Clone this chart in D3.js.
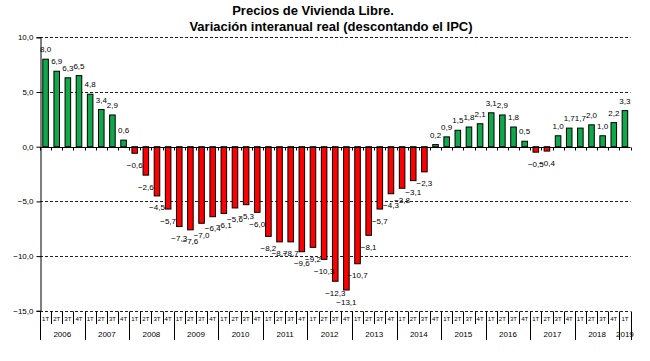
<!DOCTYPE html>
<html>
<head>
<meta charset="utf-8">
<script src="https://cdn.jsdelivr.net/npm/d3@7.9.0/dist/d3.min.js"></script>
<style>
  body { margin: 0; background: #fff; }
  svg { font-family: Arial, 'Liberation Sans', sans-serif; display: block; }
</style>
</head>
<body>
<svg id="chart" width="650" height="361"></svg>
<script>
// data
const years = ['2006', '2007', '2008', '2009', '2010', '2011', '2012',
  '2013', '2014', '2015', '2016', '2017', '2018', '2019'];
const quarterLabels = ['1T', '2T', '3T', '4T'];
const values = [
  8.0, 6.9, 6.3, 6.5,
  4.8, 3.4, 2.9, 0.6,
  -0.6, -2.6, -4.5, -5.7,
  -7.3, -7.6, -7.0, -6.4,
  -6.1, -5.6, -5.3, -6.0,
  -8.2, -8.7, -8.7, -9.6,
  -9.2, -10.3, -12.3, -13.1,
  -10.7, -8.1, -5.7, -4.3,
  -3.8, -3.1, -2.3, 0.2,
  0.9, 1.5, 1.8, 2.1,
  3.1, 2.9, 1.8, 0.5,
  -0.5, -0.4, 1.0, 1.7,
  1.7, 2.0, 1.0, 2.2,
  3.3
];
const yTicks = [10, 5, 0, -5, -10, -15];
const titleLines = ['Precios de Vivienda Libre.', 'Variación interanual real (descontando el IPC)'];

// categories: one per quarter
const data = values.map((v, i) => ({
  i,
  value: v,
  quarter: quarterLabels[i % 4],
  year: years[Math.floor(i / 4)]
}));

const svg = d3.select('#chart');
const fmt = v => d3.format('.1f')(v).replace('.', ',');

const x = d3.scaleBand().domain(data.map(d => d.i)).range([40, 630.5]).paddingInner(0.5).paddingOuter(0.25);
const y = d3.scaleLinear().domain([-15, 10]).range([310.8, 37.3]);
const step = x.step();
const x0 = 40;
const edge = i => x0 + i * ((630.5 - 40) / data.length);

// title
svg.append('text').attr('x', 313).attr('y', 15).attr('text-anchor', 'middle')
  .attr('font-size', 13).attr('font-weight', 'bold').text(titleLines[0]);
svg.append('text').attr('x', 331).attr('y', 30.5).attr('text-anchor', 'middle')
  .attr('font-size', 13).attr('font-weight', 'bold').text(titleLines[1]);

// gridlines (dashed, except zero)
svg.append('g').selectAll('line')
  .data(yTicks.filter(t => t !== 0))
  .join('line')
  .attr('x1', 40).attr('x2', 630.5)
  .attr('y1', d => Math.round(y(d)) + 0.5).attr('y2', d => Math.round(y(d)) + 0.5)
  .attr('stroke', '#222').attr('stroke-width', 1).attr('stroke-dasharray', '3,2');

// y axis
const yAxis = d3.axisLeft(y).tickValues(yTicks).tickSize(4).tickFormat(fmt);
const gy = svg.append('g').attr('transform', 'translate(40.5,0)').call(yAxis);
gy.select('.domain').attr('stroke', '#000');
gy.selectAll('.tick text').attr('font-size', 8).attr('font-family', 'Arial, Liberation Sans, sans-serif').attr('fill', '#000');

// bars
svg.append('g').selectAll('rect')
  .data(data)
  .join('rect')
  .attr('x', d => x(d.i))
  .attr('width', x.bandwidth())
  .attr('y', d => y(Math.max(0, d.value)))
  .attr('height', d => Math.abs(y(d.value) - y(0)))
  .attr('fill', d => d.value >= 0 ? '#10a84a' : '#ff0000')
  .attr('stroke', '#000').attr('stroke-width', 1);

// zero line with small ticks
const y0 = Math.round(y(0)) + 0.5;
svg.append('line').attr('x1', 40).attr('x2', 630.5).attr('y1', y0).attr('y2', y0)
  .attr('stroke', '#000');
svg.append('g').selectAll('line')
  .data(d3.range(data.length + 1))
  .join('line')
  .attr('x1', d => Math.round(edge(d)) + 0.5).attr('x2', d => Math.round(edge(d)) + 0.5)
  .attr('y1', y0).attr('y2', y0 + 3)
  .attr('stroke', '#000');

// value labels
svg.append('g').selectAll('text')
  .data(data)
  .join('text')
  .attr('x', d => x(d.i) + x.bandwidth() / 2)
  .attr('y', d => d.value >= 0 ? y(d.value) - 7 : y(d.value) + 14.5)
  .attr('text-anchor', 'middle')
  .attr('font-size', 8)
  .attr('fill', '#000')
  .text(d => fmt(d.value));

// category axis: quarter and year rows
const yb = Math.round(y(-15)) + 0.5;
const cat = svg.append('g');
cat.selectAll('line.q')
  .data(d3.range(data.length + 1))
  .join('line')
  .attr('class', 'q')
  .attr('x1', d => Math.round(edge(d)) + 0.5).attr('x2', d => Math.round(edge(d)) + 0.5)
  .attr('y1', yb)
  .attr('y2', d => (d % 4 === 0 || d === data.length) ? 340 : 324)
  .attr('stroke', '#000');

cat.selectAll('text.q')
  .data(data)
  .join('text')
  .attr('class', 'q')
  .attr('x', d => x(d.i) + x.bandwidth() / 2)
  .attr('y', 320.5)
  .attr('text-anchor', 'middle')
  .attr('font-size', 6)
  .text(d => d.quarter);

cat.selectAll('text.y')
  .data(years)
  .join('text')
  .attr('class', 'y')
  .attr('x', (d, k) => {
    const first = k * 4;
    const last = Math.min(first + 3, data.length - 1);
    return (edge(first) + edge(last + 1)) / 2;
  })
  .attr('y', 337)
  .attr('text-anchor', 'middle')
  .attr('font-size', 8)
  .text(d => d);
</script>
</body>
</html>
